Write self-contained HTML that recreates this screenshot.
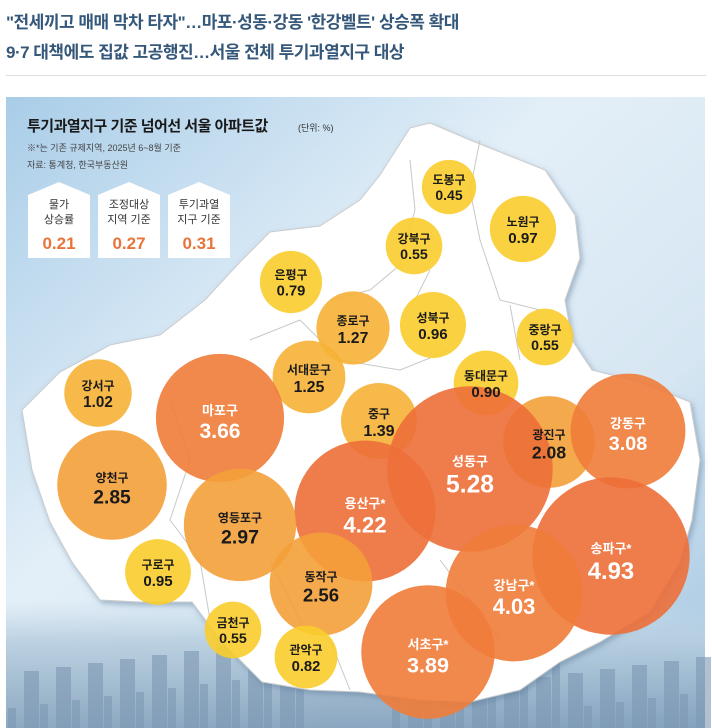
<!DOCTYPE html>
<html><head><meta charset="utf-8">
<style>
body{margin:0;width:712px;height:728px;background:#fff;overflow:hidden;font-family:"Liberation Sans","Noto Sans CJK KR",sans-serif}
.h{position:absolute;left:6px;font-size:17px;font-weight:bold;color:#35577a;letter-spacing:-0.5px}
</style></head><body>
<div class="h" style="top:8px">"전세끼고 매매 막차 타자"…마포·성동·강동 '한강벨트' 상승폭 확대</div>
<div class="h" style="top:38px">9·7 대책에도 집값 고공행진…서울 전체 투기과열지구 대상</div>
<div style="position:absolute;left:6px;top:75px;width:700px;height:1px;background:#ddd"></div>
<svg id="chart" style="position:absolute;left:0;top:0" width="712" height="728" font-family="'Liberation Sans','Noto Sans CJK KR',sans-serif">
<defs>
<linearGradient id="sky" x1="0" y1="0" x2="1" y2="1">
<stop offset="0" stop-color="#a9cde8"/><stop offset="0.4" stop-color="#e3eff8"/><stop offset="0.7" stop-color="#d6e6f2"/><stop offset="1" stop-color="#9fc3e0"/></linearGradient>
<linearGradient id="city" x1="0" y1="0" x2="0" y2="1"><stop offset="0" stop-color="#c5d8e8" stop-opacity="0"/><stop offset="0.3" stop-color="#b8cfe0"/><stop offset="1" stop-color="#7f9cb8"/></linearGradient>
<filter id="sh"><feDropShadow dx="2" dy="3" stdDeviation="3" flood-color="#5a7a99" flood-opacity="0.5"/></filter>
</defs>
<rect x="6" y="97" width="699" height="631" fill="url(#sky)"/>
<rect x="6" y="600" width="699" height="128" fill="url(#city)" opacity="0.85"/>
<g id="buildings" fill="#7d98b3" opacity="0.6"></g>
<path filter="url(#sh)" fill="#fff" stroke="#ccc" d="M22,410 L60,372 L110,345 L160,335 L205,300 L240,262 L270,232 L320,226 L360,200 L380,175 L410,128 L430,123 L470,140 L500,152 L545,170 L575,215 L580,258 L565,300 L572,340 L592,370 L640,382 L690,402 L700,460 L692,520 L680,562 L650,612 L600,642 L560,662 L520,690 L470,702 L420,700 L360,692 L310,690 L262,682 L222,642 L192,602 L140,602 L100,600 L72,562 L50,522 L32,470 Z"/>
<g stroke="#c8c8c8" fill="none" stroke-width="1">
<path d="M410,160 L415,210 L400,265 L370,290 L330,300"/><path d="M480,140 L470,190 L480,240 L500,300 L540,310"/><path d="M415,300 L430,270"/><path d="M510,305 L520,360"/><path d="M250,340 L300,320 L340,360 L400,370 L450,350"/><path d="M170,400 L190,460 L170,520 L200,560 L210,620"/><path d="M270,560 L300,620 L330,640 L350,690"/><path d="M440,560 L470,600 L500,640"/>
</g>
<text x="27" y="131" font-size="15" font-weight="bold" fill="#1a1a1a" letter-spacing="-0.5">투기과열지구 기준 넘어선 서울 아파트값</text>
<text x="298" y="131" font-size="9" fill="#333">(단위: %)</text>
<text x="27" y="151" font-size="9" fill="#444">※*는 기존 규제지역, 2025년 6~8월 기준</text>
<text x="27" y="168" font-size="9" fill="#444">자료: 통계청, 한국부동산원</text>
<g id="legend"></g>
<g id="bubbles"></g>
</svg>
<script>
const districts=["도봉구","노원구","강북구","은평구","성북구","종로구","중랑구","서대문구","동대문구","강서구","마포구","중구","광진구","강동구","성동구","용산구*","양천구","영등포구","송파구*","구로구","동작구","강남구*","금천구","관악구","서초구*"];
const values=[0.45,0.97,0.55,0.79,0.96,1.27,0.55,1.25,0.90,1.02,3.66,1.39,2.08,3.08,5.28,4.22,2.85,2.97,4.93,0.95,2.56,4.03,0.55,0.82,3.89];
const mapX=[449,523,414,291,433,353,545,309,486,98,220,379,549,628,470,365,112,240,611,158,321,514,233,306,428];
const mapY=[187,229,246,282,325,328,337,377,383,393,418,421,442,431,469,511,485,525,556,572,584,593,630,657,652];
const legendLabels=[["물가","상승률"],["조정대상","지역 기준"],["투기과열","지구 기준"]];
const legendValues=[0.21,0.27,0.31];
const NS="http://www.w3.org/2000/svg";
function rScale(v){return 22+11.5*v;}
function color(v){return v<1.0?"#f9cd2c":v<2?"#f6b136":v<3?"#f4a03a":v<4.1?"#ef7c3a":"#ed6f38";}
function mk(t,a,p){const e=document.createElementNS(NS,t);for(const k in a)e.setAttribute(k,a[k]);p.appendChild(e);return e;}
const bl=document.getElementById("buildings");
for(let i=0;i<45;i++){const w=8+(i*7)%14,h=20+(i*37)%70;const x=8+i*16;if(x>300&&x<380)continue;mk("rect",{x:x,y:728-h,width:w,height:h},bl);}
const lg=document.getElementById("legend");
legendValues.forEach((v,i)=>{
 const x=28+i*70,w=62;
 const g=mk("g",{},lg);
 
 
 mk("path",{d:`M${x},${195} L${x+w/2},${182} L${x+w},${195} L${x+w},258 L${x},258 Z`,fill:"#fff"},g);
 legendLabels[i].forEach((s,j)=>{const t=mk("text",{x:x+w/2,y:208+j*15,"font-size":11,"text-anchor":"middle",fill:"#333"},g);t.textContent=s;});
 const t=mk("text",{x:x+w/2,y:249,"font-size":17,"font-weight":"bold","text-anchor":"middle",fill:"#e8743a"},g);t.textContent=v.toFixed(2);
});
const bg=document.getElementById("bubbles");
values.forEach((v,i)=>{
 const c=mk("circle",{cx:mapX[i],cy:mapY[i],r:rScale(v),fill:color(v),"fill-opacity":0.9},bg);
 
 
});
values.forEach((v,i)=>{
 const fc=v>=3?"#fff":"#1a1a1a";
 const vs=13+2.2*v;
 const n=mk("text",{x:mapX[i],y:mapY[i]-3,"font-size":v>=3?13:12,"font-weight":"bold","text-anchor":"middle",fill:fc},bg);
 
 
 n.textContent=districts[i];
 const t=mk("text",{x:mapX[i],y:mapY[i]+vs-1,"font-size":vs,"font-weight":"bold","text-anchor":"middle",fill:fc},bg);
 
 
 t.textContent=v.toFixed(2);
});
</script>
</body></html>
